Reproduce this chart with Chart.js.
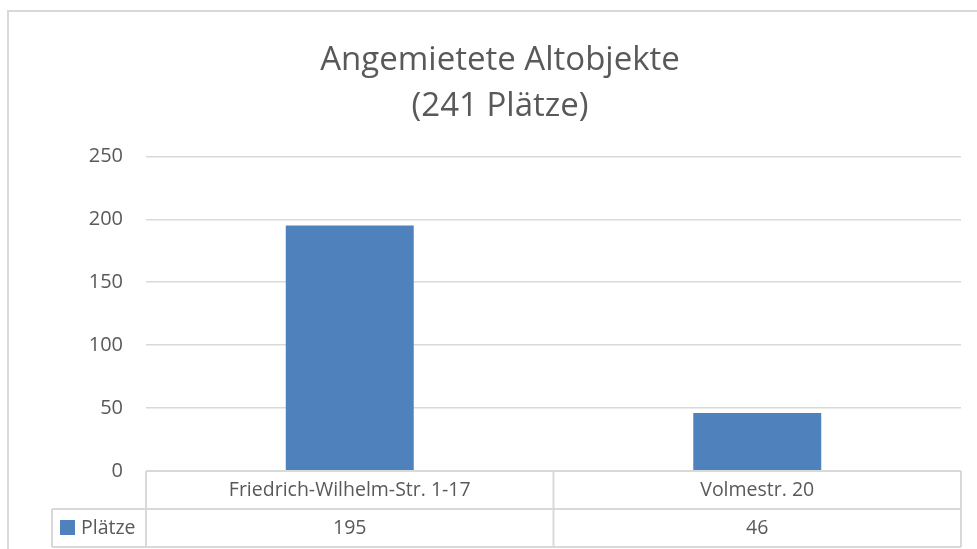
<!DOCTYPE html>
<html>
<head>
<meta charset="utf-8">
<script src="https://cdn.jsdelivr.net/npm/chart.js@4.4.0/dist/chart.umd.min.js"></script>
<style>
  html, body { margin: 0; padding: 0; background: #ffffff; }
  #wrap { width: 977px; height: 549px; position: relative; }
</style>
</head>
<body>
<div id="wrap"><canvas id="c" width="977" height="549"></canvas></div>
<script>
const titleLines = ['Angemietete Altobjekte', '(241 Plätze)'];
const categories = ['Friedrich-Wilhelm-Str. 1-17', 'Volmestr. 20'];
const seriesName = 'Plätze';
const seriesValues = [195, 46];
const yMin = 0, yMax = 250, yStep = 50;

const TEXT = '#595959';
const GRID = '#d9d9d9';
const BAR = '#4f81bd';
const FONT = '"Open Sans", Lato, sans-serif';

const framePlugin = {
  id: 'frame',
  beforeDraw(chart) {
    const ctx = chart.ctx;
    ctx.save();
    ctx.fillStyle = '#ffffff';
    ctx.fillRect(0, 0, chart.width, chart.height);
    ctx.fillStyle = GRID;
    ctx.fillRect(7, 10, chart.width - 7, 2);
    ctx.fillRect(7, 10, 2, chart.height - 10);
    ctx.restore();
  }
};

const tablePlugin = {
  id: 'dataTable',
  afterDraw(chart) {
    const ctx = chart.ctx;
    const x = chart.scales.x;
    const a = chart.chartArea;
    const top = a.bottom;
    const rowH = 38;
    const r1 = top + rowH, r2 = top + 2 * rowH;
    const legendLeft = 52;
    const n = categories.length;
    const step = (a.right - a.left) / n;
    ctx.save();
    ctx.strokeStyle = GRID;
    ctx.lineWidth = 2;
    ctx.beginPath();
    ctx.moveTo(a.left, top); ctx.lineTo(a.right, top);
    ctx.moveTo(legendLeft, r1); ctx.lineTo(a.right, r1);
    ctx.moveTo(legendLeft, r2); ctx.lineTo(a.right, r2);
    ctx.moveTo(legendLeft, r1); ctx.lineTo(legendLeft, r2);
    for (let i = 0; i <= n; i++) {
      const px = (i < n ? x.getPixelForValue(i) - step / 2 : x.getPixelForValue(n - 1) + step / 2);
      ctx.moveTo(px, top); ctx.lineTo(px, r2);
    }
    ctx.stroke();

    ctx.fillStyle = TEXT;
    ctx.font = '19.5px ' + FONT;
    ctx.textAlign = 'center';
    ctx.textBaseline = 'middle';
    categories.forEach((c, i) => {
      ctx.fillText(c, x.getPixelForValue(i), top + rowH / 2);
      ctx.fillText(String(seriesValues[i]), x.getPixelForValue(i), r1 + rowH / 2);
    });
    ctx.fillStyle = BAR;
    ctx.fillRect(60, r1 + 11, 15, 15);
    ctx.fillStyle = TEXT;
    ctx.textAlign = 'left';
    ctx.fillText(seriesName, 81, r1 + rowH / 2);
    ctx.restore();
  }
};

new Chart(document.getElementById('c'), {
  type: 'bar',
  data: {
    labels: categories,
    datasets: [{
      label: seriesName,
      data: seriesValues,
      backgroundColor: BAR,
      borderWidth: 0,
      barPercentage: 0.314,
      categoryPercentage: 1.0
    }]
  },
  options: {
    responsive: false,
    animation: false,
    devicePixelRatio: 1,
    layout: { padding: { left: 39, right: 16, top: 0, bottom: 78 } },
    plugins: {
      legend: { display: false },
      tooltip: { enabled: false },
      title: {
        display: true,
        text: titleLines,
        color: TEXT,
        font: { family: FONT, size: 33, weight: '400', lineHeight: 1.40 },
        padding: { top: 37, bottom: 27 }
      }
    },
    scales: {
      x: {
        display: false,
        grid: { display: false }
      },
      y: {
        min: yMin,
        max: yMax,
        afterFit(axis) { axis.width = 107; },
        border: { display: false },
        grid: { color: GRID, lineWidth: 1.5, drawTicks: false },
        ticks: {
          stepSize: yStep,
          padding: 23,
          color: TEXT,
          font: { family: FONT, size: 20 }
        }
      }
    }
  },
  plugins: [framePlugin, tablePlugin]
});
</script>
</body>
</html>
